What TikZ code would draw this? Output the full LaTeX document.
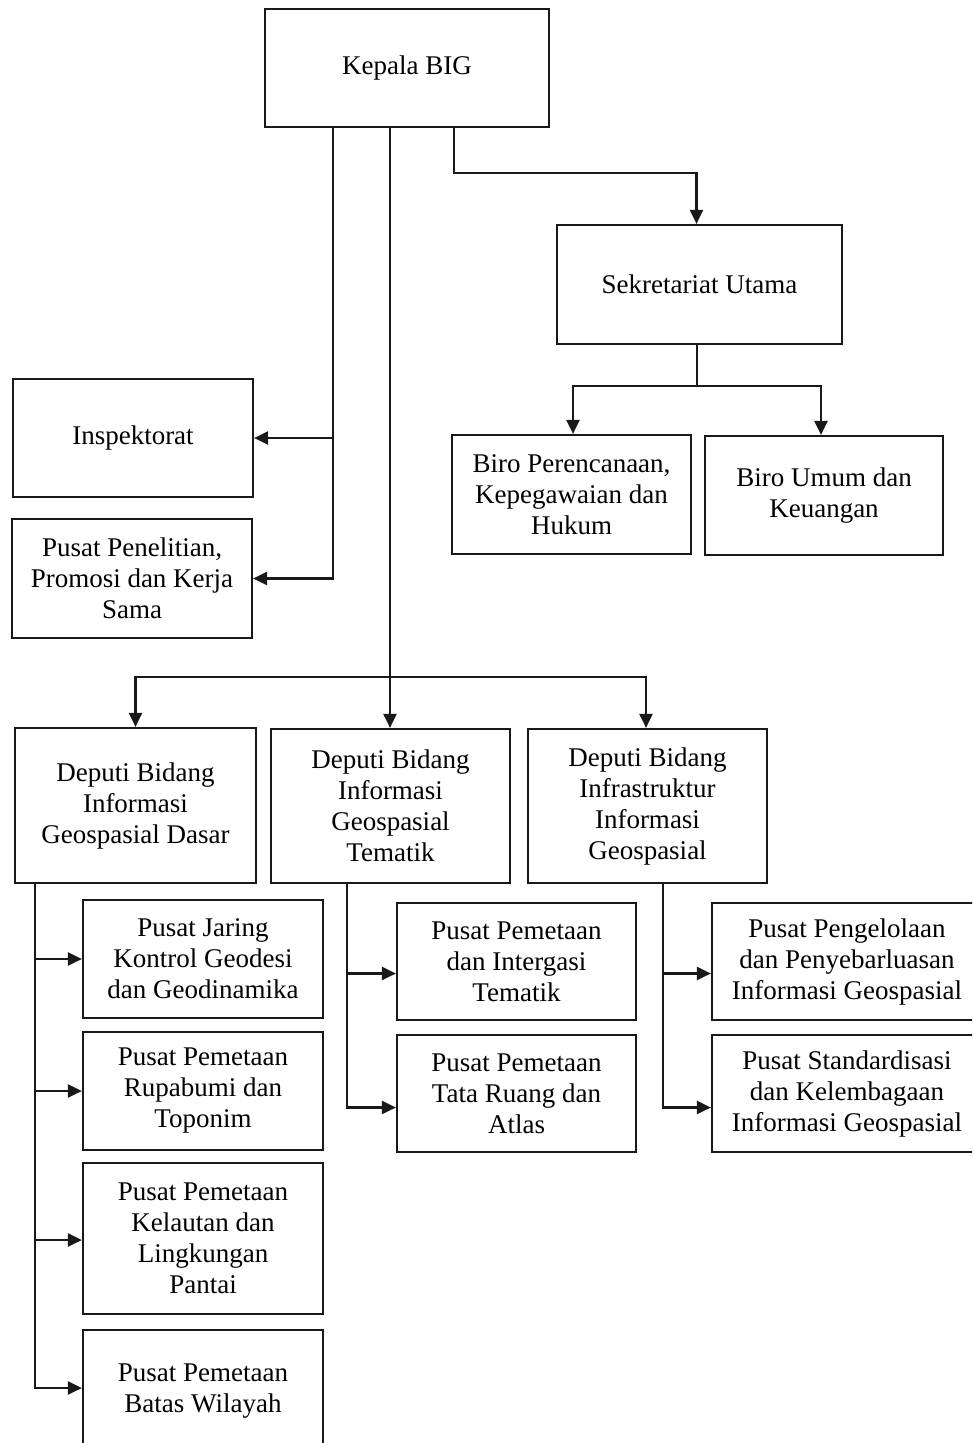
\documentclass[tikz,border=0pt]{standalone}
\usepackage{fontspec}
\setmainfont{Liberation Serif}
\usetikzlibrary{arrows.meta}
\begin{document}
\begin{tikzpicture}[x=1pt,y=-1pt,
  box/.style={draw=black!90, line width=2.2pt, align=center, inner sep=0pt,
    font=\fontsize{27}{31}\selectfont, text=black},
  conn/.style={draw=black!90, line width=2.2pt},
  arr/.style={conn, -{Triangle[length=14pt,width=13pt]}}]
\useasboundingbox (0,0) rectangle (972,1443);
\clip (0,0) rectangle (972,1443);
\fill[white] (0,0) rectangle (972,1443);
% top level
\node[box, minimum width=284, minimum height=118] (kepala) at (407,68) {Kepala BIG};
\node[box, minimum width=285, minimum height=119] (sekr) at (699.5,284.5) {Sekretariat Utama};
\node[box, minimum width=240, minimum height=118] (insp) at (133,438) {Inspektorat};
\node[box, minimum width=240, minimum height=119] (pusl) at (132,578.5) {Pusat Penelitian,\\Promosi dan Kerja\\Sama};
\node[box, minimum width=239, minimum height=119] (biro1) at (571.5,494.5) {Biro Perencanaan,\\Kepegawaian dan\\Hukum};
\node[box, minimum width=238, minimum height=119] (biro2) at (824,495.5) {Biro Umum dan\\Keuangan};
% deputies
\node[box, minimum width=241, minimum height=155] (dep1) at (135.5,805.5) {Deputi Bidang\\Informasi\\Geospasial Dasar};
\node[box, minimum width=239, minimum height=154] (dep2) at (390.5,806) {Deputi Bidang\\Informasi\\Geospasial\\Tematik};
\node[box, minimum width=239, minimum height=154] (dep3) at (647.5,806) {Deputi Bidang\\Infrastruktur\\Informasi\\Geospasial};
% centres under deputy 1
\node[box, minimum width=240, minimum height=118] (pj) at (203,959) {Pusat Jaring\\Kontrol Geodesi\\dan Geodinamika};
\node[box, minimum width=240, minimum height=118] (pr) at (203,1091) {Pusat Pemetaan\\Rupabumi dan\\Toponim};
\node[box, minimum width=240, minimum height=151] (pk) at (203,1238.5) {Pusat Pemetaan\\Kelautan dan\\Lingkungan\\Pantai};
\node[box, minimum width=240, minimum height=122] (pb) at (203,1391) {Pusat Pemetaan\\Batas Wilayah};
% centres under deputy 2
\node[box, minimum width=239, minimum height=117] (pt1) at (516.5,961.5) {Pusat Pemetaan\\dan Intergasi\\Tematik};
\node[box, minimum width=239, minimum height=117] (pt2) at (516.5,1093.5) {Pusat Pemetaan\\Tata Ruang dan\\Atlas};
% centres under deputy 3
\node[box, minimum width=270, minimum height=117] (pi1) at (847,961.5) {Pusat Pengelolaan\\dan Penyebarluasan\\Informasi Geospasial};
\node[box, minimum width=270, minimum height=117] (pi2) at (847,1093.5) {Pusat Standardisasi\\dan Kelembagaan\\Informasi Geospasial};
% junction coordinates
\coordinate (k1) at ([xshift=-74]kepala.south);
\coordinate (k2) at ([xshift=-17]kepala.south);
\coordinate (k3) at (454,173);
\coordinate (bar) at (390,677);
\coordinate (sb) at (697,386);
\coordinate (d1) at ([xshift=21]dep1.south west);
\coordinate (d2) at ([xshift=77]dep2.south west);
\coordinate (d3) at ([xshift=136]dep3.south west);
% connectors from Kepala
\draw[arr] (k1) |- (insp.east);
\draw[arr] (k1) |- (pusl.east);
\draw[arr] (k2) -- (k2 |- dep2.north);
\draw[arr] (bar) -| (dep1.north);
\draw[arr] (bar) -| ([xshift=-1.5]dep3.north);
\draw[arr] (kepala.south -| k3) -- (k3) -| ([xshift=-3]sekr.north);
% Sekretariat
\draw[conn] (sekr.south -| sb) -- (sb);
\draw[arr] (sb) -| ([xshift=1.5]biro1.north);
\draw[arr] (sb) -| ([xshift=-3]biro2.north);
% deputy 1
\draw[arr] (d1) |- (pj.west);
\draw[arr] (d1) |- (pr.west);
\draw[arr] (d1) |- ([yshift=-1.5]pk.west);
\draw[arr] (d1) |- ([yshift=3]pb.west);
% deputy 2
\draw[arr] (d2) |- ([yshift=-12]pt1.west);
\draw[arr] (d2) |- ([yshift=-14]pt2.west);
% deputy 3
\draw[arr] (d3) |- ([yshift=-12]pi1.west);
\draw[arr] (d3) |- ([yshift=-14]pi2.west);
\end{tikzpicture}
\end{document}
